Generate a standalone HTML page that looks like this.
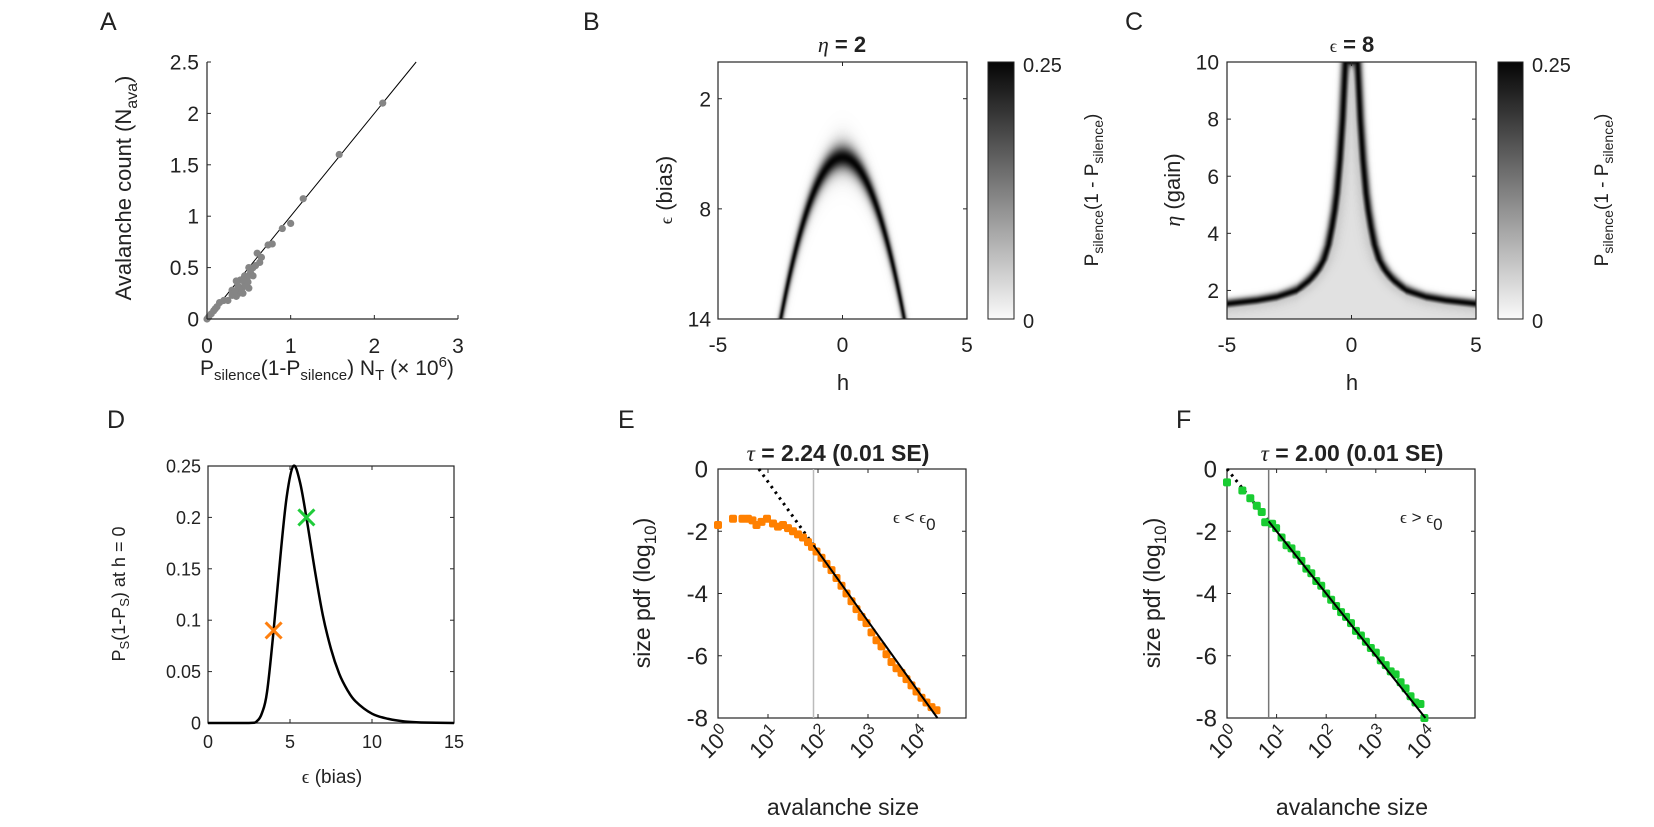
<!DOCTYPE html>
<html><head><meta charset="utf-8"><style>
body{margin:0;background:#fff;}
#wrap{position:relative;width:1654px;height:827px;overflow:hidden;font-family:"Liberation Sans",sans-serif;}
canvas{position:absolute;}
svg{position:absolute;left:0;top:0;}
text{font-family:"Liberation Sans",sans-serif;fill:#222;}
</style></head><body>
<div id="wrap">
<canvas id="hmB" width="249" height="257" style="left:718px;top:62px"></canvas>
<canvas id="hmC" width="249" height="257" style="left:1227px;top:62px"></canvas>
<svg id="chartsvg" width="1654" height="827">
<defs><linearGradient id="cb" x1="0" y1="1" x2="0" y2="0"><stop offset="0" stop-color="#fafafa"/><stop offset="1" stop-color="#050505"/></linearGradient></defs>
<text x="100" y="30" font-size="25">A</text>
<text x="583" y="30" font-size="25">B</text>
<text x="1125" y="30" font-size="25">C</text>
<text x="107" y="428" font-size="25">D</text>
<text x="618" y="428" font-size="25">E</text>
<text x="1176" y="428" font-size="25">F</text>

<text x="200" y="375" font-size="21">P<tspan font-size="15" dy="5">silence</tspan><tspan dy="-5">(1-P</tspan><tspan font-size="15" dy="5">silence</tspan><tspan dy="-5">) N</tspan><tspan font-size="15" dy="5">T</tspan><tspan dy="-5"> (× 10</tspan><tspan font-size="15" dy="-8">6</tspan><tspan dy="8">)</tspan></text>
<text transform="translate(131,188) rotate(-90)" text-anchor="middle" font-size="22">Avalanche count (N<tspan font-size="16" dy="6">ava</tspan><tspan dy="-6">)</tspan></text>

<text x="842" y="52" text-anchor="middle" font-size="22" font-weight="bold"><tspan font-style="italic" font-weight="normal" font-family="Liberation Serif">η</tspan> = 2</text>
<text x="843" y="390" text-anchor="middle" font-size="22">h</text>
<text transform="translate(672,190) rotate(-90)" text-anchor="middle" font-size="22"><tspan font-family="Liberation Serif" font-size="18">ϵ</tspan> (bias)</text>
<rect x="988" y="62" width="26" height="257" fill="url(#cb)" stroke="#222" stroke-width="1"/>
<text x="1023" y="72" font-size="20">0.25</text>
<text x="1023" y="328" font-size="20">0</text>
<text transform="translate(1098,190) rotate(-90)" text-anchor="middle" font-size="19">P<tspan font-size="14" dy="5">silence</tspan><tspan dy="-5">(1 - P</tspan><tspan font-size="14" dy="5">silence</tspan><tspan dy="-5">)</tspan></text>

<text x="1352" y="52" text-anchor="middle" font-size="22" font-weight="bold"><tspan font-family="Liberation Serif" font-weight="normal" font-size="18">ϵ</tspan> = 8</text>
<text x="1352" y="390" text-anchor="middle" font-size="22">h</text>
<text transform="translate(1180,190) rotate(-90)" text-anchor="middle" font-size="22"><tspan font-family="Liberation Serif" font-style="italic">η</tspan> (gain)</text>
<rect x="1498" y="62" width="25" height="257" fill="url(#cb)" stroke="#222" stroke-width="1"/>
<text x="1532" y="72" font-size="20">0.25</text>
<text x="1532" y="328" font-size="20">0</text>
<text transform="translate(1608,190) rotate(-90)" text-anchor="middle" font-size="19">P<tspan font-size="14" dy="5">silence</tspan><tspan dy="-5">(1 - P</tspan><tspan font-size="14" dy="5">silence</tspan><tspan dy="-5">)</tspan></text>

<text x="332" y="783" text-anchor="middle" font-size="19"><tspan font-family="Liberation Serif">ϵ</tspan> (bias)</text>
<text transform="translate(125,594) rotate(-90)" text-anchor="middle" font-size="18">P<tspan font-size="13" dy="4">S</tspan><tspan dy="-4">(1-P</tspan><tspan font-size="13" dy="4">S</tspan><tspan dy="-4">) at h = 0</tspan></text>

<text x="838" y="461" text-anchor="middle" font-size="23" font-weight="bold"><tspan font-family="Liberation Serif" font-style="italic" font-weight="normal">τ</tspan> = 2.24 (0.01 SE)</text>
<text x="843" y="815" text-anchor="middle" font-size="23">avalanche size</text>
<text transform="translate(650,593) rotate(-90)" text-anchor="middle" font-size="23">size pdf (log<tspan font-size="17" dy="6">10</tspan><tspan dy="-6">)</tspan></text>
<text x="893" y="523" font-size="17"><tspan font-family="Liberation Serif">ϵ</tspan> &lt; <tspan font-family="Liberation Serif">ϵ</tspan><tspan dy="7">0</tspan></text>

<text x="1352" y="461" text-anchor="middle" font-size="23" font-weight="bold"><tspan font-family="Liberation Serif" font-style="italic" font-weight="normal">τ</tspan> = 2.00 (0.01 SE)</text>
<text x="1352" y="815" text-anchor="middle" font-size="23">avalanche size</text>
<text transform="translate(1160,593) rotate(-90)" text-anchor="middle" font-size="23">size pdf (log<tspan font-size="17" dy="6">10</tspan><tspan dy="-6">)</tspan></text>
<text x="1400" y="523" font-size="17"><tspan font-family="Liberation Serif">ϵ</tspan> &gt; <tspan font-family="Liberation Serif">ϵ</tspan><tspan dy="7">0</tspan></text>
</svg>
</div>
<script>
const aX = [2.1,1.58,1.15,1.0,0.9,0.78,0.73,0.65,0.63,0.6,0.58,0.55,0.5,0.52,0.48,0.45,0.5,0.42,0.38,0.35,0.4,0.35,0.3,0.25,0.2,0.15,0.12,0.1,0.08,0.05,0.02,0,0.45,0.4,0.47,0.43,0.37,0.55,0.3,0.33,0.44,0.49];
const aY = [2.1,1.6,1.17,0.93,0.88,0.73,0.72,0.6,0.55,0.64,0.52,0.5,0.5,0.45,0.4,0.35,0.3,0.3,0.25,0.22,0.38,0.37,0.28,0.18,0.18,0.16,0.12,0.1,0.08,0.05,0.02,0,0.42,0.28,0.33,0.25,0.32,0.42,0.23,0.27,0.38,0.36];
const aXTicks = [0,1,2,3];
const aYTicks = [0,0.5,1,1.5,2,2.5];
const bXTicks = [-5,0,5];
const bYTicks = [2,8,14];
const bRidge = [0.7, 5.2, 3];
const cEta = [1.45,1.53,1.65,1.77,2.0,2.37,2.7,3.07,3.6,4.22,4.8,5.41,6.57,8,10];
const cRidgeH = [6.5,5,3.8,3.0,2.2,1.67,1.35,1.11,0.92,0.78,0.67,0.58,0.46,0.35,0.24];
const cXTicks = [-5,0,5];
const cYTicks = [2,4,6,8,10];
const dEps = [0,2.5,3,3.3,3.6,4,4.4,4.8,5.2,5.6,6,6.5,7,7.5,8,8.5,9,10,11,12,13,15];
const dVal = [0,0,0.002,0.01,0.03,0.09,0.16,0.22,0.25,0.235,0.2,0.15,0.105,0.072,0.048,0.032,0.021,0.009,0.004,0.0015,0.0005,0];
const dMarkEps = [4,6];
const dMarkVal = [0.09,0.2];
const dXTicks = [0,5,10,15];
const dYTicks = [0,0.05,0.1,0.15,0.2,0.25];
const eLogS = [0,0.3,0.49,0.6,0.69,0.77,0.87,0.98,1.1,1.2,1.3,1.4,1.5,1.6,1.7,1.8,1.88,1.97,2.07,2.17,2.27,2.37,2.47,2.57,2.67,2.77,2.87,2.97,3.07,3.17,3.27,3.37,3.47,3.57,3.67,3.77,3.87,3.97,4.07,4.17,4.27,4.37];
const eLogP = [-1.8,-1.6,-1.6,-1.6,-1.65,-1.8,-1.7,-1.6,-1.75,-1.85,-1.8,-1.9,-2.0,-2.1,-2.2,-2.35,-2.5,-2.65,-2.85,-3.05,-3.25,-3.5,-3.75,-4.0,-4.25,-4.5,-4.75,-4.95,-5.25,-5.5,-5.7,-5.95,-6.2,-6.4,-6.55,-6.75,-6.95,-7.15,-7.35,-7.5,-7.65,-7.75];
const eFit = [1.83,-2.24,1.91];
const fLogS = [0,0.31,0.47,0.6,0.7,0.77,0.91,0.99,1.1,1.2,1.3,1.4,1.5,1.6,1.7,1.8,1.9,2.0,2.1,2.2,2.3,2.4,2.5,2.6,2.7,2.8,2.9,3.0,3.1,3.2,3.3,3.4,3.5,3.6,3.7,3.8,3.9,3.98];
const fLogP = [-0.43,-0.69,-0.94,-1.18,-1.38,-1.71,-1.76,-1.9,-2.2,-2.45,-2.55,-2.75,-2.95,-3.2,-3.35,-3.6,-3.75,-4.0,-4.2,-4.4,-4.6,-4.75,-4.95,-5.2,-5.35,-5.55,-5.75,-5.9,-6.15,-6.3,-6.5,-6.6,-6.85,-7.05,-7.3,-7.5,-7.55,-8.0];
const fFit = [0,-2.0,0.84];
const logXTicks = [0,1,2,3,4];
const logYTicks = [0,-2,-4,-6,-8];

const NS='http://www.w3.org/2000/svg';
const root=document.getElementById('chartsvg');
function mk(tag,attrs,parent){const e=document.createElementNS(NS,tag);for(const k in attrs)e.setAttribute(k,attrs[k]);(parent||root).appendChild(e);return e;}

function axesBox(x0,y0,x1,y1,name){
  const r=mk('rect',{x:x0,y:y0,width:x1-x0,height:y1-y0,fill:'none',stroke:'#262626','stroke-width':1.2});
  
  
}
function xTicks(vals,sx,y0,y1,fs,ly,name){
  vals.forEach(v=>{const x=sx(v);
    const t1=mk('line',{x1:x,x2:x,y1:y1,y2:y1-4,stroke:'#262626'});
    
    
    const t2=mk('line',{x1:x,x2:x,y1:y0,y2:y0+4,stroke:'#262626'});
    
    
    const t=mk('text',{x:x,y:ly,'text-anchor':'middle','font-size':fs});
    t.textContent=String(v);
    
    
  });
}
function yTicks(vals,sy,x0,x1,fs,lx,name){
  vals.forEach(v=>{const y=sy(v);
    const t1=mk('line',{x1:x0,x2:x0+4,y1:y,y2:y,stroke:'#262626'});
    
    
    const t2=mk('line',{x1:x1,x2:x1-4,y1:y,y2:y,stroke:'#262626'});
    
    
    const t=mk('text',{x:lx,y:y+fs*0.36,'text-anchor':'end','font-size':fs});
    t.textContent=String(v);
    
    
  });
}

// Panel A
const axX=v=>207+v*251/3, axY=v=>319-v*257/2.5;
const aLine=mk('line',{x1:axX(0),y1:axY(0),x2:axX(2.5),y2:axY(2.5),stroke:'#000','stroke-width':1});


aX.forEach((x,i)=>{const c=mk('circle',{cx:axX(x),cy:axY(aY[i]),r:3.6,fill:'#858585'});
  
  });
const aL=mk('line',{x1:207,y1:319,x2:207,y2:62,stroke:'#262626','stroke-width':1.2});


const aB=mk('line',{x1:207,y1:319,x2:458,y2:319,stroke:'#262626','stroke-width':1.2});


aXTicks.forEach(v=>{const x=axX(v);const l=mk('line',{x1:x,x2:x,y1:319,y2:315,stroke:'#262626'});
  
  
  const t=mk('text',{x:x,y:353,'text-anchor':'middle','font-size':21});t.textContent=v;
  
  });
aYTicks.forEach(v=>{const y=axY(v);const l=mk('line',{x1:207,x2:211,y1:y,y2:y,stroke:'#262626'});
  
  
  const t=mk('text',{x:199,y:y+7.5,'text-anchor':'end','font-size':21});t.textContent=v;
  
  });

function gray(v){return Math.round(250*(1-Math.min(v,0.25)/0.25)+5);}
function interp(xs,ys,x){if(x<=xs[0])return ys[0];for(let i=1;i<xs.length;i++){if(x<=xs[i]){const t=(x-xs[i-1])/(xs[i]-xs[i-1]);return ys[i-1]+t*(ys[i]-ys[i-1]);}}return ys[ys.length-1];}
(function(){const cv=document.getElementById('hmB'),ctx=cv.getContext('2d');const W=249,H=257;const img=ctx.createImageData(W,H);
 for(let py=0;py<H;py++){const eps=14*(py+0.5)/H;for(let px=0;px<W;px++){const h=-5+10*(px+0.5)/W;
  const f=h*h/bRidge[0]-(eps-bRidge[1]);const P=1/(1+Math.exp(-bRidge[2]*f));const g=gray(P*(1-P));const k=(py*W+px)*4;
  img.data[k]=g;img.data[k+1]=g;img.data[k+2]=g;img.data[k+3]=255;}}
 ctx.putImageData(img,0,0);})();
(function(){const cv=document.getElementById('hmC'),ctx=cv.getContext('2d');const W=249,H=257;const img=ctx.createImageData(W,H);
 const rh=cRidgeH.slice().reverse(), re=cEta.slice().reverse();
 for(let py=0;py<H;py++){const eta=10-9*(py+0.5)/H;const hr=interp(cEta,cRidgeH,eta);
  for(let px=0;px<W;px++){const h=-5+10*(px+0.5)/W;const ah=Math.abs(h);
   const er=interp(rh,re,ah);const a=(ah-hr)*24.9, b=(eta-er)*28.5;
   const d=Math.abs(a*b)/Math.sqrt(a*a+b*b+1e-9);
   let v;
   if(ah<hr){v=Math.max(0.25*Math.exp(-Math.pow(d/4,2)),0.03+0.03*Math.exp(-Math.pow(d/9,2)));}
   else{v=0.25*Math.exp(-Math.pow(d/4.5,2));}
   const g=gray(v);const k=(py*W+px)*4;img.data[k]=g;img.data[k+1]=g;img.data[k+2]=g;img.data[k+3]=255;}}
 ctx.putImageData(img,0,0);})();
const bX=v=>718+(v+5)*24.9, bY=v=>62+v*257/14;
axesBox(718,62,967,319,'b-axes-box');
xTicks(bXTicks,bX,62,319,21,352,'b-x');
yTicks(bYTicks,bY,718,967,21,711,'b-y');
const cX=v=>1227+(v+5)*24.9, cY=v=>319-(v-1)*257/9;
axesBox(1227,62,1476,319,'c-axes-box');
xTicks(cXTicks,cX,62,319,21,352,'c-x');
yTicks(cYTicks,cY,1227,1476,21,1219,'c-y');

// Panel D
const dX=v=>208+v*16.4, dY=v=>723-v*257/0.25;
axesBox(208,466,454,723,'d-axes-box');
xTicks(dXTicks,dX,466,723,18,748,'d-x');
yTicks(dYTicks,dY,208,454,18,201,'d-y');
function smoothPath(px,py){let d='M'+px[0].toFixed(1)+','+py[0].toFixed(1);
  for(let i=0;i<px.length-1;i++){const i0=Math.max(0,i-1),i3=Math.min(px.length-1,i+2);
    const c1x=px[i]+(px[i+1]-px[i0])/6,c1y=py[i]+(py[i+1]-py[i0])/6;
    const c2x=px[i+1]-(px[i3]-px[i])/6,c2y=py[i+1]-(py[i3]-py[i])/6;
    d+='C'+c1x.toFixed(1)+','+Math.min(723,c1y).toFixed(1)+' '+c2x.toFixed(1)+','+Math.min(723,c2y).toFixed(1)+' '+px[i+1].toFixed(1)+','+py[i+1].toFixed(1);}
  return d;}
const dPath=mk('path',{d:smoothPath(dEps.map(dX),dVal.map(dY)),fill:'none',stroke:'#000','stroke-width':2.5,'stroke-linejoin':'round'});


const dCols=['#ff7f0e','#1fcc3a'];
dMarkEps.forEach((e,i)=>{const x=dX(e),y=dY(dMarkVal[i]);const p=mk('path',{d:'M'+(x-8)+','+(y-8)+'L'+(x+8)+','+(y+8)+'M'+(x-8)+','+(y+8)+'L'+(x+8)+','+(y-8),stroke:dCols[i],'stroke-width':3});
  
  });

function logPanel(x0,sxs,xs,ys,fit,col,pfx,vline){
  const sx=v=>x0+v*sxs, sy=v=>469-v*31.125;
  axesBox(x0,469,x0+248,718,pfx+'-axes-box');
  logXTicks.forEach(v=>{const x=sx(v);
    const l=mk('line',{x1:x,x2:x,y1:718,y2:714,stroke:'#262626'});
    
    
    const l2=mk('line',{x1:x,x2:x,y1:469,y2:473,stroke:'#262626'});
    
    
    const t=mk('text',{transform:'translate('+(x+14)+',736) rotate(-45)','text-anchor':'end','font-size':22});
    t.textContent='10';
    const sup=mk('tspan',{'font-size':16,dy:-9},t);
    sup.textContent=String(v);
    
    });
  yTicks(logYTicks,sy,x0,x0+248,24,x0-10,pfx+'-y');
  const vl=mk('line',{x1:sx(fit[2]),x2:sx(fit[2]),y1:469,y2:718,stroke:vline,'stroke-width':1.5});
  
  
  const x0f=Math.max(0,-fit[0]/fit[1]); const xe=(-8-fit[0])/fit[1];
  const dl=mk('line',{x1:sx(x0f),y1:sy(fit[0]+fit[1]*x0f),x2:sx(fit[2]),y2:sy(fit[0]+fit[1]*fit[2]),stroke:'#000','stroke-width':3,'stroke-dasharray':'2.5 4.5'});
  
  
  xs.forEach((x,i)=>{const r=mk('rect',{x:sx(x)-4,y:sy(ys[i])-4,width:8,height:8,rx:2,fill:col});
    
    });
  const sl=mk('line',{x1:sx(fit[2]),y1:sy(fit[0]+fit[1]*fit[2]),x2:sx(xe),y2:sy(-8),stroke:'#000','stroke-width':2});
  
  
}
logPanel(718,50,eLogS,eLogP,eFit,'#ff8000','e','#bbbbbb');
logPanel(1227,49.6,fLogS,fLogP,fFit,'#19cc32','f','#777777');
</script>
</body></html>
